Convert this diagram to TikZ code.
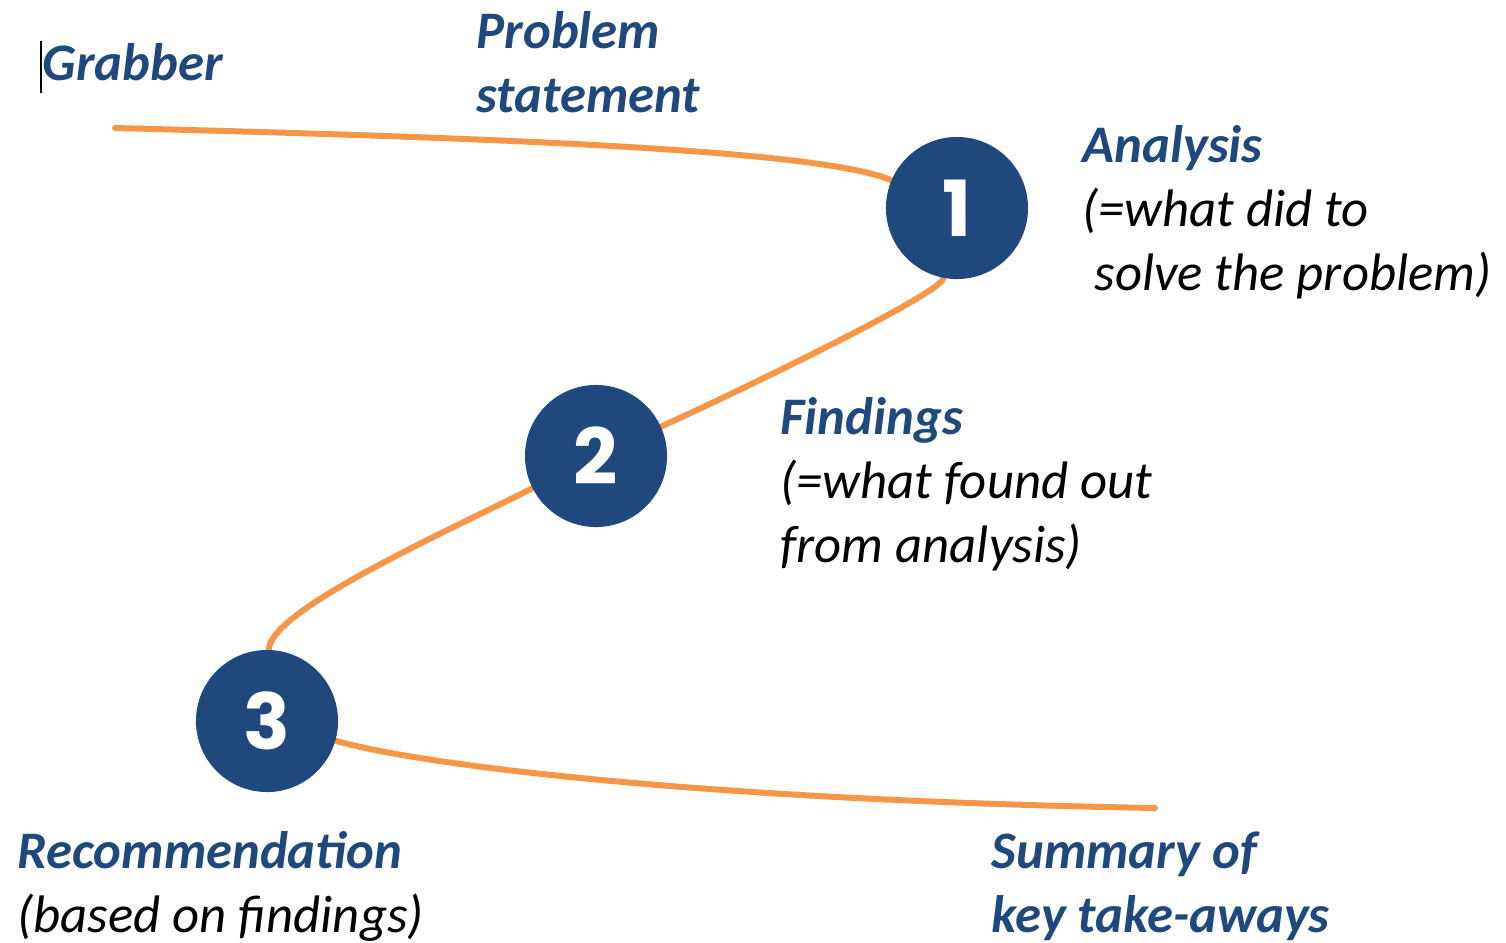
\documentclass[tikz,border=0pt]{standalone}
\usepackage{fontspec}
\setmainfont{Carlito}
\newfontfamily\numfont{Poppins}
\usepackage{tikz}
\usetikzlibrary{positioning,backgrounds}
\definecolor{navy}{HTML}{1F497D}
\definecolor{lineorange}{HTML}{F79646}

\begin{document}
\begin{tikzpicture}[x=0.01cm,y=-0.01cm,
    stepnum/.style={circle,fill=navy,minimum size=1.42cm,inner sep=0pt,text=white,font=\numfont\bfseries\fontsize{22}{22}\selectfont},
    head/.style={anchor=base west,inner sep=0pt,align=left,font=\itshape\fontsize{15}{18.2}\selectfont},
    link/.style={draw=lineorange,line width=1.7pt,line cap=round}]
    \useasboundingbox (0,0) rectangle (1506,942);

    \node[head] (t0) at (42,80) {\textcolor{navy}{\bfseries Grabber}};
    \node[head] (t1) at (476,112) {\textcolor{navy}{\bfseries Problem}\\\textcolor{navy}{\bfseries statement}};
    \node[head] (t2) at (1082,290) {\textcolor{navy}{\bfseries Analysis}\\(=what did to\\\ solve the problem)};
    \node[head] (t3) at (780,562) {\textcolor{navy}{\bfseries Findings}\\(=what found out\\from analysis)};
    \node[head] (t4) at (17,932) {\textcolor{navy}{\bfseries Recommendation}\\(based on findings)};
    \node[head] (t5) at (991,932) {\textcolor{navy}{\bfseries Summary of}\\\textcolor{navy}{\bfseries key take-aways}};

    \coordinate (s0) at (115,128);
    \coordinate (e0) at (1155,808);
    \node[stepnum] (c1) at (957,208) {1};
    \node[stepnum] (c2) at (596,456) {2};
    \node[stepnum] (c3) at (267,721) {3};

    \begin{scope}[on background layer]
        \draw[link] (s0) .. controls (500,138) and (820,150) .. (c1);
        \draw[link] (c1) .. controls (940,295) and (720,400) .. (c2);
        \draw[link] (c2) .. controls (450,530) and (270,610) .. (c3);
        \draw[link] (c3) .. controls (420,765) and (700,800) .. (e0);
    \end{scope}

    \draw[black,line width=0.4pt] (41,41) -- (41,93);
\end{tikzpicture}
\end{document}
